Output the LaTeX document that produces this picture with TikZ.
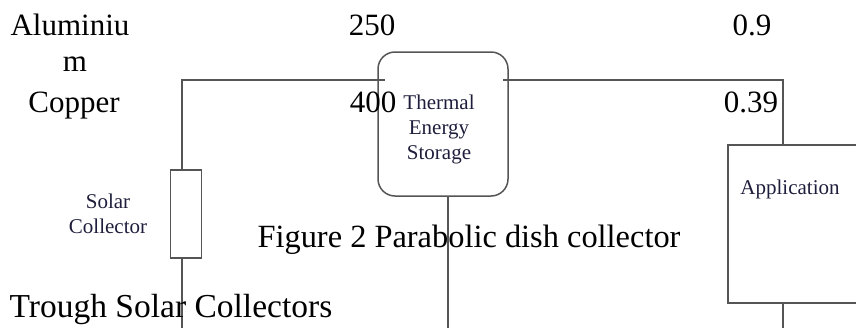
\documentclass[tikz,border=0pt]{standalone}
\usepackage{fontspec}
\setmainfont{Liberation Serif}
\definecolor{linegrey}{RGB}{85,85,85}
\definecolor{labelink}{RGB}{30,30,60}
\begin{document}
\begin{tikzpicture}[x=1pt, y=-1pt,
    bigtext/.style={font=\fontsize{31}{36}\selectfont, anchor=base, inner sep=0pt},
    smalltext/.style={font=\fontsize{21}{25}\selectfont, text=labelink, align=center, inner sep=0pt},
    unit/.style={draw=linegrey, line width=1.5pt, inner sep=0pt},
    wire/.style={draw=linegrey, line width=1.5pt}]
	\clip[use as bounding box] (0, 0) rectangle (856, 327);
	\node[unit, minimum width=31pt, minimum height=88pt] (collector) at (186, 214) {};
	\node[unit, rounded corners=17pt, minimum width=130pt, minimum height=144pt] (storage) at (443, 124) {};
	\node[unit, minimum width=170pt, minimum height=158pt, anchor=north west] (application) at (727, 144) {};
	\coordinate (collectortop) at (182, 170);
	\coordinate (collectorbottom) at (182, 258);
	\coordinate (storageleft) at (385, 80);
	\coordinate (storageright) at (503, 80);
	\coordinate (applicationtop) at (783, 144);
	\coordinate (applicationbottom) at (783, 302);
	\draw[wire] (collectortop) |- (storageleft);
	\draw[wire] (storageright) -| (applicationtop);
	\draw[wire] (collectorbottom) -- ++(0, 70);
	\draw[wire] (storage.south -| 448, 0) -- ++(0, 140);
	\draw[wire] (applicationbottom) -- ++(0, 30);
	\node[smalltext] (collectorlabel) at (108, 214) {Solar\\Collector};
	\node[smalltext] (storagelabel) at (439, 129) {Thermal\\Energy\\Storage};
	\node[smalltext] (applicationlabel) at (790, 189) {Application};
	\node[bigtext] (alu) at (70, 35) {Aluminiu};
	\node[bigtext] (alum) at (75, 71) {m};
	\node[bigtext] (cu) at (74, 112) {Copper};
	\node[bigtext] (alua) at (372, 35) {250};
	\node[bigtext] (cua) at (373, 112) {400};
	\node[bigtext] (alub) at (752, 35) {0.9};
	\node[bigtext] (cub) at (751, 112) {0.39};
	\node[bigtext, font=\fontsize{32.4}{36}\selectfont] (caption) at (469, 247) {Figure 2 Parabolic dish collector};
	\node[bigtext, font=\fontsize{33.5}{36}\selectfont] (trough) at (171, 317) {Trough Solar Collectors};
\end{tikzpicture}
\end{document}
